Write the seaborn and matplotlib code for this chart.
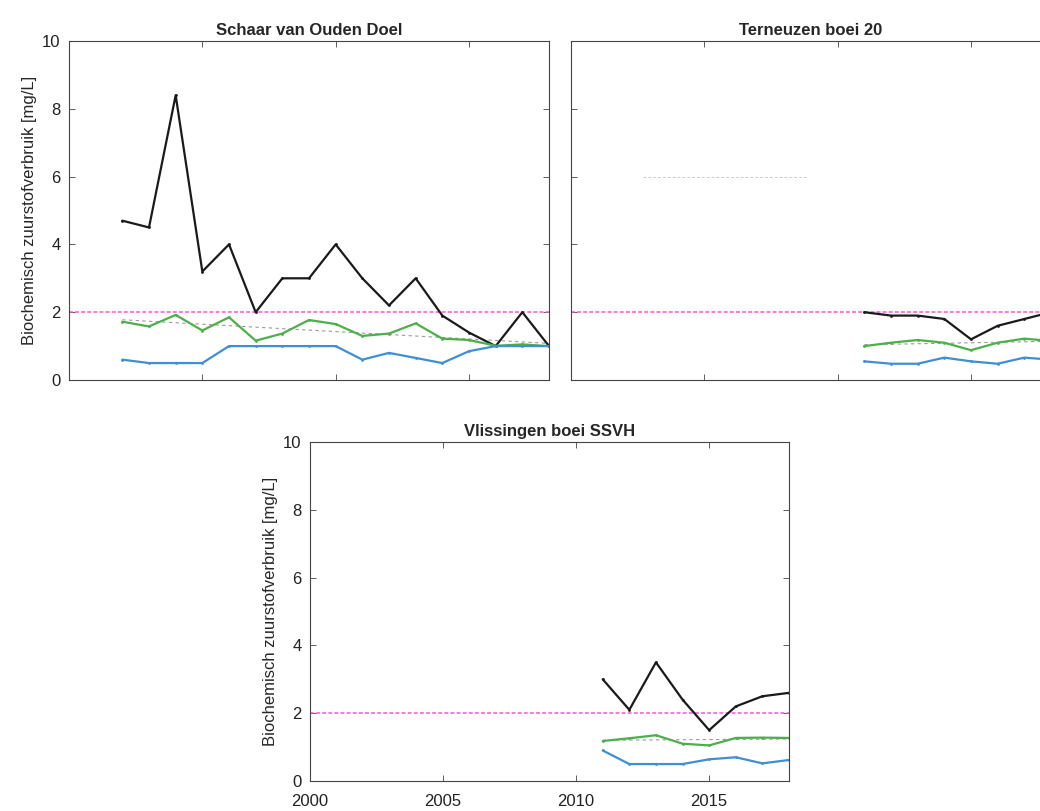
import numpy as np
import pandas as pd
import matplotlib
matplotlib.use('Agg')
import matplotlib.pyplot as plt
import seaborn as sns

# Schaar van Ouden Doel
years_sod = list(range(2002, 2019))
sod_max = [4.7, 4.5, 8.4, 3.2, 4.0, 2.0, 3.0, 3.0, 4.0, 3.0, 2.2, 3.0, 1.9, 1.4, 1.0, 2.0, 1.0]
sod_mean = [1.72, 1.58, 1.92, 1.46, 1.85, 1.16, 1.37, 1.77, 1.65, 1.30, 1.37, 1.67, 1.22, 1.18, 1.01, 1.05, 1.0]
sod_min = [0.6, 0.5, 0.5, 0.5, 1.0, 1.0, 1.0, 1.0, 1.0, 0.6, 0.8, 0.65, 0.5, 0.85, 1.0, 1.0, 1.0]

# Terneuzen boei 20
years_ter = list(range(2011, 2019))
ter_max = [2.0, 1.9, 1.9, 1.8, 1.2, 1.6, 1.8, 2.0]
ter_mean = [1.0, 1.1, 1.18, 1.1, 0.88, 1.1, 1.22, 1.15]
ter_min = [0.55, 0.48, 0.48, 0.66, 0.55, 0.48, 0.66, 0.6]

# Vlissingen boei SSVH
years_vli = list(range(2011, 2019))
vli_max = [3.0, 2.1, 3.5, 2.4, 1.5, 2.2, 2.5, 2.6]
vli_mean = [1.18, 1.26, 1.35, 1.1, 1.05, 1.27, 1.28, 1.27]
vli_min = [0.9, 0.5, 0.5, 0.5, 0.64, 0.7, 0.52, 0.62]

norm_value = 2.0
ghost_years = [2002.7, 2008.8]
ghost_values = [6.0, 6.0]

stations = ['Schaar van Ouden Doel', 'Terneuzen boei 20', 'Vlissingen boei SSVH']
series_names = ['max', 'gemiddeld', 'min']
series_colors = {'max': '#1a1a1a', 'gemiddeld': '#4daf4a', 'min': '#3f8fd6'}


def make_df(years, mx, mean, mn):
    return pd.DataFrame({
        'jaar': years * 3,
        'waarde': mx + mean + mn,
        'reeks': ['max'] * len(years) + ['gemiddeld'] * len(years) + ['min'] * len(years),
    })


data = {
    stations[0]: make_df(years_sod, sod_max, sod_mean, sod_min),
    stations[1]: make_df(years_ter, ter_max, ter_mean, ter_min),
    stations[2]: make_df(years_vli, vli_max, vli_mean, vli_min),
}

sns.set_style('ticks')
plt.rcParams['font.family'] = ['Liberation Sans', 'DejaVu Sans']
plt.rcParams['axes.edgecolor'] = '#444444'
plt.rcParams['axes.linewidth'] = 0.8

fig = plt.figure(figsize=(10.4, 8.11), dpi=100)
W, H = 1040, 811
# panel boxes in pixels: left, top, width, height
boxes = {
    stations[0]: (69, 41, 480, 339),
    stations[1]: (571, 41, 480, 339),
    stations[2]: (310, 442, 479, 339),
}

for name in stations:
    l, t, w, h = boxes[name]
    ax = fig.add_axes([l / W, (H - t - h) / H, w / W, h / H])
    df = data[name]
    ax.axhline(norm_value, color='#ff4fd2', linestyle=(0, (2.5, 1.5)), linewidth=1.1, zorder=1)
    mean_df = df[df['reeks'] == 'gemiddeld']
    sns.regplot(x='jaar', y='waarde', data=mean_df, scatter=False, ci=None, ax=ax,
                line_kws={'color': '#9a9a9a', 'linestyle': (0, (3, 3)), 'linewidth': 0.8})
    if name == stations[1]:
        ax.plot(ghost_years, ghost_values, color='#cccccc', linestyle=(0, (3, 2)), linewidth=0.7)
    sns.lineplot(x='jaar', y='waarde', hue='reeks', data=df, ax=ax,
                 palette=series_colors, hue_order=series_names,
                 marker='.', markersize=4, markeredgewidth=0, linewidth=1.6, legend=False)
    ax.set_xlim(2000, 2018)
    ax.set_ylim(0, 10)
    ax.set_xticks([2000, 2005, 2010, 2015])
    ax.set_yticks([0, 2, 4, 6, 8, 10])
    ax.tick_params(direction='in', top=True, right=True, length=4, width=0.6,
                   labelsize=12, colors='#444444', labelcolor='#222222')
    ax.tick_params(axis='x', pad=9)
    ax.tick_params(axis='y', pad=6)
    ax.set_title(name, fontsize=12, fontweight='bold', pad=4)
    ax.set_xlabel('')
    if name == stations[1]:
        ax.set_yticklabels([])
        ax.set_ylabel('')
    else:
        ax.set_ylabel('Biochemisch zuurstofverbruik [mg/L]', fontsize=12, labelpad=4)
    if name != stations[2]:
        ax.set_xticklabels([])

fig.savefig('out.png', dpi=100)
